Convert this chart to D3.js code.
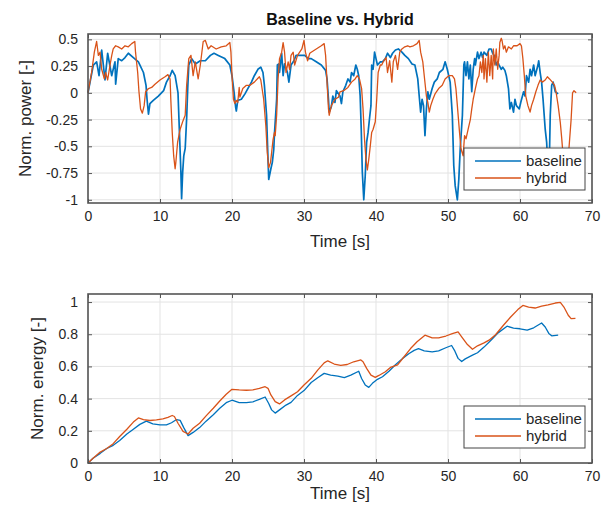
<!DOCTYPE html>
<head>
<meta charset='utf-8'>
<title>Baseline vs. Hybrid</title>
<script src='https://d3js.org/d3.v7.min.js'></script>
<style>
  html, body { margin: 0; padding: 0; background: white; }
  svg { font-family: 'Liberation Sans', Arial, sans-serif; }
  .grid line { stroke: #e3e3e3; stroke-width: 1; }
  .tick text { font-size: 14px; fill: #262626; }
</style>
</head>
<body>
<div id='chart'></div>
<script>
// top plot: normalised power, baseline
var baseT = [0,0.74,1.2,1.53,1.9,2.36,2.73,3.29,3.75,3.84,4.2,4.68,5.14,5.6,6.3,7.0,7.7,8.06,8.2,8.4,8.6,9.07,9.77,10.5,10.9,11.4,11.7,12.1,12.5,12.7,12.9,13.0,13.15,13.3,13.5,13.7,13.85,14.0,14.4,14.9,15.6,16.3,17.0,
  17.5,18.1,19.0,19.7,20.0,20.3,20.5,20.6,20.8,21.3,21.8,22.2,22.7,23.1,23.6,24.0,24.3,24.5,24.8,25.0,25.1,25.4,25.6,25.8,25.9,26.2,26.3,26.5,26.6,26.9,27.1,27.3,27.7,27.9,28.2,28.6,28.9,29.4,30.1,30.6,31.0,31.7,32.4,33.0,33.2,33.4,33.5,33.8,34.0,34.3,34.5,
  35.0,35.2,35.4,35.8,36.1,36.4,36.6,36.9,37.2,37.4,37.6,37.8,37.95,38.1,38.3,38.5,38.7,38.9,39.1,39.3,39.4,39.6,39.8,40.0,40.2,40.6,40.9,41.3,41.6,42.0,42.3,42.7,43.1,43.6,44.0,44.5,45.0,45.4,45.8,46.0,46.2,46.4,46.6,46.8,47.0,47.2,47.4,47.8,48.1,48.5,48.8,49.3,49.6,49.9,50.3,50.6,50.8,51.0,51.3,51.5,51.7,52.0,52.2,
  52.3,52.5,52.7,52.9,53.1,53.3,53.5,53.7,53.8,54.1,54.3,54.6,54.8,55.0,55.4,55.7,56.0,56.2,56.4,56.7,56.9,57.1,57.4,57.6,57.9,58.1,58.4,58.6,58.8,59.1,59.3,59.5,59.9,60.1,60.5,60.7,60.9,61.2,61.4,61.6,61.9,62.1,62.5,62.6,62.8,63.0,63.2,63.5,63.7,63.8,64.0,64.1,64.2,64.4,64.6,64.9,65.3];
var basePower = [0,0.26,0.29,0.16,0.4,0.12,0.37,0.16,0.29,0.08,0.32,0.3,0.33,0.37,0.33,0.29,0.19,0.07,-0.06,-0.2,-0.1,-0.07,-0.03,0.02,0.1,0.16,0.21,0.16,0,-0.37,-0.74,-0.99,-0.74,-0.59,-0.52,-0.24,0.04,0.26,0.32,0.27,0.3,0.3,0.35,
  0.37,0.35,0.32,0.26,0.16,0,-0.13,-0.17,-0.07,-0.06,-0.01,0.04,0.1,0.16,0.22,0.24,0.19,0.07,-0.21,-0.62,-0.81,-0.71,-0.65,-0.53,-0.38,-0.06,0.26,0.27,0.19,0.37,0.16,0.27,0.19,0.1,0.26,0.3,0.35,0.35,0.35,0.32,0.32,0.29,0.26,0.21,0.13,-0.06,-0.18,-0.13,-0.03,-0.09,0.02,
  -0.03,-0.1,0.01,0.07,0.13,0.1,0.19,0.16,0.26,0.22,0.16,-0.03,-0.34,-0.74,-1.0,-0.78,-0.46,-0.37,-0.24,-0.12,0.26,0.22,0.38,0.32,0.26,0.29,0.29,0.32,0.37,0.33,0.37,0.4,0.41,0.38,0.35,0.32,0.27,0.26,0.13,-0.03,-0.18,-0.06,-0.12,-0.4,-0.15,0.01,-0.06,0.04,0.1,0.13,0.19,0.22,0.29,0.22,0.1,-0.21,-0.68,-0.87,-1.0,-0.81,-0.52,-0.21,0.26,
  0.29,0.16,0.29,0.13,0.26,0.01,0.22,0.32,0.26,0.38,0.32,0.38,0.33,0.38,0.35,0.41,0.41,0.37,0.35,0.26,0.29,0.26,0.22,0.24,0.21,0.16,0.04,-0.15,-0.09,-0.18,-0.06,-0.12,-0.15,-0.09,0.01,-0.03,0.16,0.1,0.22,0.16,0.26,0.16,0.26,0.3,0.19,0.1,-0.06,-0.34,-0.46,-0.6,-0.8,-0.55,-0.21,0.07,0.1,0.01,-0.01];

// top plot: normalised power, hybrid
var hybT = [0,0.5,0.88,1.2,1.44,1.67,1.9,2.27,2.45,2.73,3.06,3.3,3.5,3.84,4.2,4.68,5.14,5.6,6.07,6.5,6.6,6.9,7.08,7.3,7.55,7.8,8.0,8.4,8.84,9.3,10.0,10.7,11.1,11.4,11.5,11.7,11.9,12.1,12.2,12.45,12.8,13.2,13.5,13.7,14.0,14.3,14.6,14.9,15.3,15.6,16.0,16.3,16.7,17.1,
  17.8,18.5,19.2,19.7,19.85,20.0,20.2,20.4,20.6,20.8,21.0,21.1,21.5,22.0,22.5,23.1,23.8,24.0,24.4,24.7,24.9,25.1,25.35,25.5,25.7,25.9,26.0,26.2,26.4,26.6,26.9,27.1,27.3,27.5,27.8,28.0,28.2,28.5,28.7,29.1,29.4,29.7,30.0,30.2,30.5,30.8,31.0,31.7,32.4,32.8,33.0,33.2,33.4,33.5,33.8,34.3,34.8,
  35.0,35.5,36.1,36.6,37.1,37.4,37.7,38.0,38.2,38.4,38.6,38.8,39.0,39.2,39.4,39.6,39.9,40.1,40.3,40.6,40.8,41.0,41.4,41.6,41.9,42.2,42.4,42.7,43.0,43.3,43.6,44.0,44.4,44.7,45.2,45.7,46.0,46.2,46.5,46.7,47.0,47.2,47.4,47.6,47.9,48.2,48.7,49.2,49.6,50.1,50.6,50.9,51.1,51.3,51.6,51.8,52.1,
  52.3,52.5,52.8,53.1,53.3,53.5,53.8,54.1,54.3,54.5,54.7,54.9,55.0,55.2,55.4,55.6,55.8,56.0,56.2,56.3,56.5,56.7,56.9,57.1,57.2,57.4,57.5,57.7,57.9,58.1,58.4,58.8,59.1,59.6,60.0,60.2,60.4,60.6,60.8,61.1,61.4,61.6,61.9,62.2,62.5,62.8,63.1,63.5,63.8,64.1,64.5,64.8,65.0,65.3,65.6,65.8,66.0,66.3,66.6,66.8,67.1,67.3,67.5,67.8];
var hybPower = [0,0.19,0.38,0.48,0.35,0.38,0.22,0.13,0.19,0.12,0.26,0.35,0.41,0.44,0.43,0.41,0.44,0.43,0.46,0.48,0.38,0.19,0.01,-0.15,-0.19,-0.12,0.01,0.04,0.05,0.08,0.12,0.15,0.17,0.13,-0.06,-0.37,-0.59,-0.71,-0.65,-0.46,-0.34,-0.26,-0.21,0.07,0.32,0.35,0.16,0.29,0.13,0.26,0.48,0.49,0.41,0.44,
  0.41,0.43,0.44,0.47,0.38,0.16,-0.06,-0.1,-0.07,-0.09,0.05,-0.04,0.04,0.07,0.07,0.1,0.15,0.12,-0.06,-0.31,-0.56,-0.7,-0.65,-0.56,-0.44,-0.37,-0.4,-0.21,0.13,0.32,0.38,0.47,0.38,0.19,0.29,0.22,0.35,0.38,0.26,0.35,0.38,0.41,0.49,0.38,0.3,0.37,0.38,0.41,0.44,0.46,0.35,0.1,-0.15,-0.21,-0.12,-0.06,-0.04,
  0.01,0.02,0.05,0.1,0.13,0.16,0.13,0.04,-0.15,-0.43,-0.62,-0.72,-0.62,-0.5,-0.37,-0.34,-0.27,-0.06,0.19,0.26,0.26,0.29,0.33,0.19,0.3,0.1,0.29,0.35,0.22,0.38,0.41,0.43,0.44,0.43,0.44,0.46,0.49,0.38,0.29,0.16,-0.03,-0.09,-0.18,-0.12,-0.06,-0.01,0.04,0.07,0.13,0.16,0.16,0.13,0.04,-0.12,-0.37,-0.52,-0.59,
  -0.4,-0.43,-0.34,-0.25,-0.15,-0.06,0.04,0.13,0.16,0.29,0.19,0.35,0.13,0.32,0.1,0.38,0.16,0.35,0.13,0.41,0.26,0.41,0.22,0.35,0.47,0.51,0.49,0.41,0.44,0.38,0.43,0.41,0.44,0.44,0.46,0.44,0.32,0.16,-0.03,-0.12,-0.18,-0.12,-0.06,0.01,0.07,0.12,0.1,0.12,0.15,0.13,0.1,0.07,0.01,-0.12,-0.28,-0.43,-0.6,-0.75,-0.7,-0.52,-0.25,0,0.02,0];

// bottom plot: normalised energy
var baseET = [0,0.7,1.7,2.6,3.5,4.4,5.4,6.3,7.2,8.1,9.0,10.0,10.9,11.6,12.3,12.8,13.3,13.9,14.6,15.5,16.4,17.4,18.3,19.2,20.0,21.0,22.0,22.9,23.8,24.6,25.1,25.5,26.0,26.6,27.5,28.2,29.1,30.0,31.0,31.9,32.8,33.7,34.7,35.6,36.5,37.6,38.0,38.5,39.0,39.5,40.2,40.9,41.8,42.7,43.7,44.6,45.3,45.9,46.7,47.8,48.7,49.7,50.5,50.9,51.4,51.9,52.4,53.4,54.1,55.0,55.9,57.0,58.2,59.1,60.0,61.0,61.9,63.0,63.5,64.0,64.4,65.3];
var baseEnergy = [0,0.03,0.06,0.09,0.11,0.14,0.18,0.21,0.24,0.26,0.243,0.237,0.237,0.25,0.27,0.265,0.22,0.17,0.19,0.22,0.26,0.3,0.34,0.375,0.39,0.375,0.375,0.38,0.395,0.41,0.37,0.33,0.31,0.33,0.36,0.377,0.42,0.45,0.5,0.53,0.557,0.546,0.54,0.53,0.546,0.57,0.525,0.485,0.47,0.495,0.52,0.536,0.57,0.61,0.65,0.68,0.7,0.71,0.697,0.69,0.697,0.716,0.73,0.7,0.65,0.63,0.647,0.67,0.685,0.72,0.76,0.81,0.85,0.838,0.834,0.825,0.84,0.87,0.845,0.805,0.79,0.795];
var hybET = [0,0.7,1.7,2.6,3.5,4.4,5.4,6.3,7.0,7.7,8.6,9.5,10.4,11.1,11.7,12.0,12.5,13.2,13.9,14.6,15.5,16.4,17.4,18.3,19.2,20.0,21.0,22.0,22.9,23.8,24.6,25.0,25.4,26.0,26.6,27.3,28.2,29.1,30.0,31.0,31.9,32.8,33.3,34.2,35.1,36.0,36.9,37.9,38.2,38.7,39.3,39.9,40.4,41.3,42.0,43.0,43.9,44.8,45.7,46.8,47.8,48.7,49.7,50.6,51.4,51.9,52.7,53.4,54.1,55.0,55.7,56.6,57.7,58.7,59.7,60.4,61.2,62.1,63.0,63.9,64.9,65.6,66.1,66.7,67.1,67.7];
var hybEnergy = [0,0.03,0.068,0.09,0.12,0.165,0.21,0.254,0.28,0.27,0.264,0.268,0.274,0.284,0.295,0.289,0.247,0.196,0.18,0.216,0.247,0.293,0.34,0.385,0.427,0.458,0.454,0.452,0.454,0.464,0.474,0.464,0.423,0.381,0.367,0.392,0.417,0.443,0.485,0.526,0.577,0.622,0.635,0.615,0.606,0.612,0.629,0.64,0.629,0.588,0.546,0.532,0.544,0.567,0.594,0.61,0.66,0.711,0.753,0.794,0.777,0.777,0.789,0.804,0.814,0.784,0.736,0.707,0.728,0.746,0.763,0.797,0.856,0.907,0.953,0.979,0.969,0.963,0.975,0.983,0.994,0.998,0.969,0.918,0.897,0.899];

var xTicks = [0,10,20,30,40,50,60,70];
var powerTicks = [-1,-0.75,-0.5,-0.25,0,0.25,0.5];
var energyTicks = [0,0.2,0.4,0.6,0.8,1];
var seriesNames = ['baseline','hybrid'];
var colors = ['#0072BD','#D95319'];

var W = 601, H = 505;
var svg = d3.select('#chart').append('svg').attr('width', W).attr('height', H);

function panel(top, bottom, yDomain, yTicks, ylabel, ylabelX, series, legendY, xlabelGap) {
  var x = d3.scaleLinear().domain([0,70]).range([88,592]);
  var y = d3.scaleLinear().domain(yDomain).range([bottom, top]);
  var g = svg.append('g');

  // grid
  var grid = g.append('g').attr('class','grid');
  grid.selectAll('.gx').data(xTicks).enter().append('line')
    .attr('x1', d => x(d)).attr('x2', d => x(d)).attr('y1', top).attr('y2', bottom);
  grid.selectAll('.gy').data(yTicks).enter().append('line')
    .attr('y1', d => y(d)).attr('y2', d => y(d)).attr('x1', 88).attr('x2', 592);

  // lines
  series.forEach(function(s, i) {
    var pts = s.t.map((t, k) => [t, s.v[k]]);
    g.append('path').datum(pts)
      .attr('fill','none').attr('stroke', colors[i]).attr('stroke-width', s.w)
      .attr('stroke-linejoin','round')
      .attr('d', d3.line().x(d => x(d[0])).y(d => y(d[1])));
  });

  // axes, ticks inside on all four sides
  var axB = g.append('g').attr('transform','translate(0,' + bottom + ')')
    .call(d3.axisBottom(x).tickValues(xTicks).tickSizeInner(-4).tickSizeOuter(0).tickPadding(8));
  var axT = g.append('g').attr('transform','translate(0,' + top + ')')
    .call(d3.axisTop(x).tickValues(xTicks).tickSizeInner(-4).tickSizeOuter(0).tickFormat(''));
  var axL = g.append('g').attr('transform','translate(88,0)')
    .call(d3.axisLeft(y).tickValues(yTicks).tickFormat(d => String(d)).tickSizeInner(-4).tickSizeOuter(0).tickPadding(10));
  var axR = g.append('g').attr('transform','translate(592,0)')
    .call(d3.axisRight(y).tickValues(yTicks).tickSizeInner(-4).tickSizeOuter(0).tickFormat(''));
  [axB, axT, axL, axR].forEach(function(a) {
    a.select('.domain').remove();
    a.selectAll('.tick line').attr('stroke','#555');
  });

  g.append('rect').attr('x',88).attr('y',top).attr('width',504).attr('height',bottom-top)
    .attr('fill','none').attr('stroke','#555').attr('stroke-width',1.6);

  g.append('text').attr('x', 340).attr('y', bottom + xlabelGap).attr('text-anchor','middle')
    .style('font-size','17px').attr('fill','#262626').text('Time [s]');
  g.append('text').attr('transform','translate(' + ylabelX + ',' + ((top+bottom)/2) + ') rotate(-90)')
    .attr('text-anchor','middle').style('font-size','17px').attr('fill','#262626').text(ylabel);

  // legend
  var lg = g.append('g').attr('transform','translate(464,' + legendY + ')');
  lg.append('rect').attr('width',121).attr('height',42).attr('fill','white')
    .attr('stroke','#444').attr('stroke-width',1);
  seriesNames.forEach(function(n, i) {
    var yy = 13 + i * 17;
    lg.append('line').attr('x1',11).attr('x2',57).attr('y1',yy).attr('y2',yy)
      .attr('stroke', colors[i]).attr('stroke-width',1.3);
    lg.append('text').attr('x',62).attr('y',yy + 5).style('font-size','15px')
      .attr('fill','#262626').text(n);
  });
}

panel(34, 203, [-1.03, 0.55], powerTicks, 'Norm. power [-]', 31,
  [{t: baseT, v: basePower, w: 1.7}, {t: hybT, v: hybPower, w: 1.3}], 148, 44);
panel(294, 463, [0, 1.05], energyTicks, 'Norm. energy [-]', 43,
  [{t: baseET, v: baseEnergy, w: 1.3}, {t: hybET, v: hybEnergy, w: 1.3}], 406, 36);

svg.append('text').attr('x', 340).attr('y', 25).attr('text-anchor','middle')
  .style('font-size','16px').style('font-weight','bold').attr('fill','#111').text('Baseline vs. Hybrid');
</script>
</body>
